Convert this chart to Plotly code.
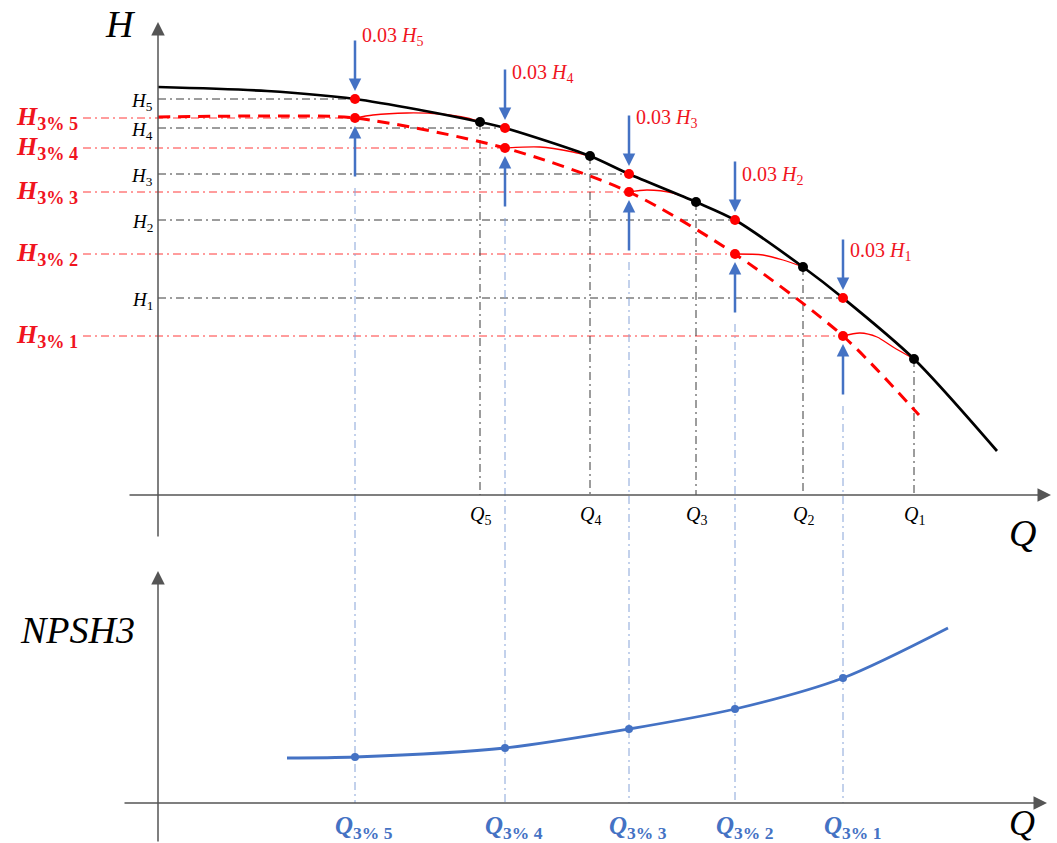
import plotly.graph_objects as go

# ---------------- data (arbitrary units) ----------------
# H-Q curve (pump head)
Q_curve = [0, 109, 197, 262, 322, 347, 432, 471, 538, 577, 645, 685, 756, 839]
H_curve = [408, 404, 396, 385, 373, 367, 339, 321, 293, 275, 228, 197, 136, 44]

# 3% head-drop envelope (dashed)
Q_drop = [0, 120, 197, 347, 471, 577, 685, 761]
H_drop = [378, 379, 377, 347, 303, 241, 159, 80]

labels_idx = ["1", "2", "3", "4", "5"]
Q_pts = [756, 645, 538, 432, 322]          # Q1..Q5 (black points)
H_pts = [136, 228, 293, 339, 373]
Q_3pct = [685, 577, 471, 347, 197]         # Q3% 1..5
H_ref = [197, 275, 321, 367, 396]          # H1..H5
H_3pct = [159, 241, 303, 347, 377]         # H3% 1..5

# cavitation knee curves (from H3% point to Qi point)
knee_Q = [[685, 702, 719, 735, 756],
          [577, 605, 625, 645],
          [471, 489, 515, 538],
          [347, 382, 415, 432],
          [197, 215, 249, 282, 309, 322]]
knee_H = [[159, 162, 158, 148, 136],
          [241, 240, 235, 228],
          [303, 305, 302, 293],
          [347, 348, 343, 339],
          [377, 380, 382, 381, 377, 373]]

# NPSH3 curve
Q_npsh = [129, 197, 347, 471, 577, 685, 790]
N_npsh = [45, 46, 55, 74, 94, 125, 175]
N_at_3pct = [125, 94, 74, 55, 46]

# ---------------- layout constants ----------------
W, Hpx = 1057, 843
X_RANGE = [-158, 899]
H_RANGE = [-348, 495]
N_RANGE = [-40, 803]

def h_of_n(n):
    return H_RANGE[0] + (n - N_RANGE[0]) * (H_RANGE[1] - H_RANGE[0]) / (N_RANGE[1] - N_RANGE[0])

BLUE = "#4472C4"
LBLUE = "#86A3D8"
RED = "#FF0000"
LRED = "#FF3A3A"
TRED = "#F0141E"
GRAY = "#3A3A3A"
AXIS = "#555555"
SERIF = "Liberation Serif"
DASHDOT = "8px,4px,2px,4px"
ARROW_LEN = 60
ARROW_GAP = 8

fig = go.Figure()

def line(x, y, color, width, dash="solid", yaxis="y", shape="linear"):
    fig.add_trace(go.Scatter(x=x, y=y, mode="lines", yaxis=yaxis,
                             line=dict(color=color, width=width, dash=dash, shape=shape,
                                       smoothing=0.8),
                             hoverinfo="skip", showlegend=False))

# horizontal reference lines
for i in range(5):
    line([0, Q_3pct[i]], [H_ref[i], H_ref[i]], GRAY, 1, DASHDOT)
    line([-75, Q_3pct[i]], [H_3pct[i], H_3pct[i]], LRED, 1, DASHDOT)

# vertical lines from Qi points to the Q axis
for i in range(5):
    line([Q_pts[i], Q_pts[i]], [H_pts[i], 0], GRAY, 1, DASHDOT)

# blue vertical lines from the H3% points down to the NPSH Q axis
for i in range(5):
    line([Q_3pct[i], Q_3pct[i]], [H_3pct[i] - ARROW_LEN - 10, h_of_n(0)], LBLUE, 1, DASHDOT)

# curves
line(Q_drop, H_drop, RED, 3, "12px,8px", shape="spline")
for kq, kh in zip(knee_Q, knee_H):
    line(kq, kh, RED, 1.3, shape="spline")
line(Q_curve, H_curve, "black", 2.7, shape="spline")
line(Q_npsh, N_npsh, BLUE, 2.8, yaxis="y2", shape="spline")

# markers
fig.add_trace(go.Scatter(x=Q_pts, y=H_pts, mode="markers",
                         marker=dict(color="black", size=10), hoverinfo="skip", showlegend=False))
fig.add_trace(go.Scatter(x=Q_3pct + Q_3pct, y=H_ref + H_3pct, mode="markers",
                         marker=dict(color=RED, size=10), hoverinfo="skip", showlegend=False))
fig.add_trace(go.Scatter(x=Q_3pct, y=N_at_3pct, mode="markers", yaxis="y2",
                         marker=dict(color=BLUE, size=8), hoverinfo="skip", showlegend=False))

ann = []

def arrow(x, y, ax, ay, color, width, size, yref="y"):
    ann.append(dict(x=x, y=y, ax=ax, ay=ay, xref="x", yref=yref, axref="x", ayref=yref,
                    text="", showarrow=True, arrowhead=2, arrowsize=size,
                    arrowwidth=width, arrowcolor=color, standoff=0))

# axes
arrow(0, 473, 0, -43, AXIS, 1.5, 1.8)
arrow(893, 0, -30, 0, AXIS, 1.5, 1.8)
arrow(0, 232, 0, -40, AXIS, 1.5, 1.8, yref="y2")
arrow(889, 0, -35, 0, AXIS, 1.5, 1.8, yref="y2")

# blue arrows
for i in range(5):
    arrow(Q_3pct[i], H_ref[i] + ARROW_GAP, Q_3pct[i], H_ref[i] + ARROW_LEN, BLUE, 2.5, 1.0)
    arrow(Q_3pct[i], H_3pct[i] - ARROW_GAP, Q_3pct[i], H_3pct[i] - ARROW_LEN, BLUE, 2.5, 1.0)

def text(x, y, s, size, color="black", xanchor="center", yanchor="middle",
         xshift=0, yshift=0, yref="y"):
    ann.append(dict(x=x, y=y, xref="x", yref=yref, text=s, showarrow=False,
                    xanchor=xanchor, yanchor=yanchor, xshift=xshift, yshift=yshift,
                    font=dict(family=SERIF, size=size, color=color)))

# axis titles
text(-38, 471, "<i>H</i>", 38)
text(864, -38, "<i>Q</i>", 38)
text(-81, 173, "<i>NPSH3</i>", 38, yref="y2")
text(864, -20, "<i>Q</i>", 36, yref="y2")

# H labels
label_dy = [-13, -15, -4, -5, 3]
for i in range(5):
    n = labels_idx[i]
    text(-3, H_ref[i], f"<i>H</i><sub>{n}</sub>", 19, xanchor="right", yshift=-3)
    text(-78, H_3pct[i], f"<b><i>H</i><sub>3% {n}</sub></b>", 26, color=TRED,
         xanchor="right", yshift=0)
    text(Q_3pct[i], H_ref[i] + ARROW_LEN, f"0.03 <i>H</i><sub>{n}</sub>", 20, color=TRED,
         xanchor="left", xshift=5, yshift=label_dy[i])
    text(Q_pts[i], 0, f"<i>Q</i><sub>{n}</sub>", 20, yanchor="top", yshift=-6)
    text(Q_3pct[i], 0, f"<b><i>Q</i><sub>3% {n}</sub></b>", 25, color=BLUE,
         yanchor="top", xshift=9, yshift=-7, yref="y2")

fig.update_layout(
    annotations=ann,
    width=W, height=Hpx, autosize=False,
    margin=dict(l=0, r=0, t=0, b=0, pad=0),
    paper_bgcolor="white", plot_bgcolor="white",
    showlegend=False,
    xaxis=dict(range=X_RANGE, visible=False, domain=[0, 1], fixedrange=True),
    yaxis=dict(range=H_RANGE, visible=False, domain=[0, 1], fixedrange=True),
    yaxis2=dict(range=N_RANGE, visible=False, overlaying="y", fixedrange=True),
)

fig.write_html("out.html", post_script="document.body.style.margin='0px';",
               config={"displayModeBar": False})
